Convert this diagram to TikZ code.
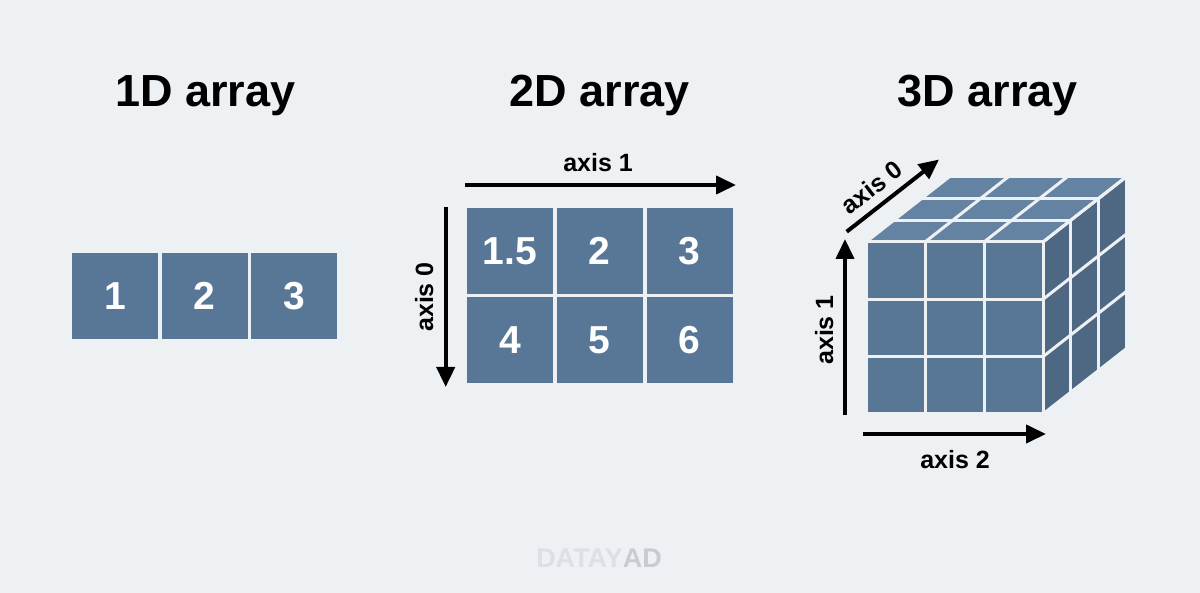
\documentclass[tikz,border=0pt]{standalone}
\usepackage{fontspec}
\setmainfont{Liberation Sans}
\usetikzlibrary{arrows.meta,calc}
\definecolor{bgc}{HTML}{EEF1F4}
\definecolor{cellc}{HTML}{587796}
\definecolor{frontc}{HTML}{587795}
\definecolor{topc}{HTML}{6482A1}
\definecolor{rightc}{HTML}{4E6884}
\definecolor{wmA}{HTML}{DCDFE3}
\definecolor{wmB}{HTML}{C8CCD1}
\tikzset{
  cell/.style={fill=cellc, minimum width=86pt, minimum height=86pt, inner sep=0pt,
    text=white, font=\fontsize{39}{39}\selectfont\bfseries},
  title/.style={anchor=base, font=\fontsize{45}{45}\selectfont\bfseries, text=black},
  axlabel/.style={anchor=base, font=\fontsize{25}{25}\selectfont\bfseries, text=black, inner sep=0pt},
  axarrow/.style={line width=4pt, -{Triangle[length=20pt,width=18pt]}},
  gridline/.style={bgc, line width=3pt},
}
\begin{document}
\begin{tikzpicture}[x=1pt,y=-1pt]
\fill[bgc] (0,0) rectangle (1200,593);
\useasboundingbox (0,0) rectangle (1200,593);

% titles
\node[title] (t1) at (205.5,106.7) {1D array};
\node[title] (t2) at (600,106.7) {2D array};
\node[title] (t3) at (988,106.7) {3D array};

% 1D array
\node[cell] (c1) at (115.3,296.2) {1};
\node[cell] (c2) at (204.7,296.2) {2};
\node[cell] (c3) at (294.2,296.2) {3};

% 2D array
\node[cell] (d11) at (510,251.3) {1.5};
\node[cell] (d12) at (599.7,251.3) {2};
\node[cell] (d13) at (689.7,251.3) {3};
\node[cell] (d21) at (510,340.5) {4};
\node[cell] (d22) at (599.7,340.5) {5};
\node[cell] (d23) at (689.7,340.5) {6};

\coordinate (ax1s) at (465,185);
\coordinate (ax1e) at (736,185);
\draw[axarrow] (ax1s) -- (ax1e);
\node[axlabel] (ax1l) at (598,172) {axis 1};

\coordinate (ax0s) at (445.7,206.7);
\coordinate (ax0e) at (445.7,387);
\draw[axarrow] (ax0s) -- (ax0e);
\node[axlabel, rotate=90] (ax0l) at (433,297) {axis 0};

% 3D array (cube)
\coordinate (FTL) at (866,242);
\coordinate (FTR) at (1043,242);
\coordinate (FBL) at (866,414);
\coordinate (FBR) at (1043,414);
\coordinate (BTL) at ($(FTL)+(83,-65)$);
\coordinate (BTR) at ($(FTR)+(83,-65)$);
\coordinate (BBR) at ($(FBR)+(83,-65)$);
\fill[frontc] (FTL) -- (FTR) -- (FBR) -- (FBL) -- cycle;
\fill[topc] (FTL) -- (FTR) -- (BTR) -- (BTL) -- cycle;
\fill[rightc] (FTR) -- (BTR) -- (BBR) -- (FBR) -- cycle;
\foreach \k in {0,1,2,3}{
  % front
  \draw[gridline] ($(FTL)!\k/3!(FTR)$) -- ($(FBL)!\k/3!(FBR)$);
  \draw[gridline] ($(FTL)!\k/3!(FBL)$) -- ($(FTR)!\k/3!(FBR)$);
  % top
  \draw[gridline] ($(FTL)!\k/3!(FTR)$) -- ($(BTL)!\k/3!(BTR)$);
  \draw[gridline] ($(FTL)!\k/3!(BTL)$) -- ($(FTR)!\k/3!(BTR)$);
  % right
  \draw[gridline] ($(FTR)!\k/3!(BTR)$) -- ($(FBR)!\k/3!(BBR)$);
  \draw[gridline] ($(FTR)!\k/3!(FBR)$) -- ($(BTR)!\k/3!(BBR)$);
}

\coordinate (bx1s) at (845,415);
\coordinate (bx1e) at (845,239);
\draw[axarrow] (bx1s) -- (bx1e);
\node[axlabel, rotate=90] (bx1l) at (833,330) {axis 1};

\coordinate (bx2s) at (863,434);
\coordinate (bx2e) at (1046,434);
\draw[axarrow] (bx2s) -- (bx2e);
\node[axlabel] (bx2l) at (955,468) {axis 2};

\coordinate (bx0s) at (846.7,231.7);
\coordinate (bx0e) at (939,159.5);
\draw[axarrow] (bx0s) -- (bx0e);
\node[axlabel, rotate=38] (bx0l) at (877,194.4) {axis 0};

% watermark
\node[anchor=base, font=\fontsize{27}{27}\selectfont\bfseries, inner sep=0pt] (wm) at (599,567) {\textcolor{wmA}{DATAY}\textcolor{wmB}{AD}};
\end{tikzpicture}
\end{document}
